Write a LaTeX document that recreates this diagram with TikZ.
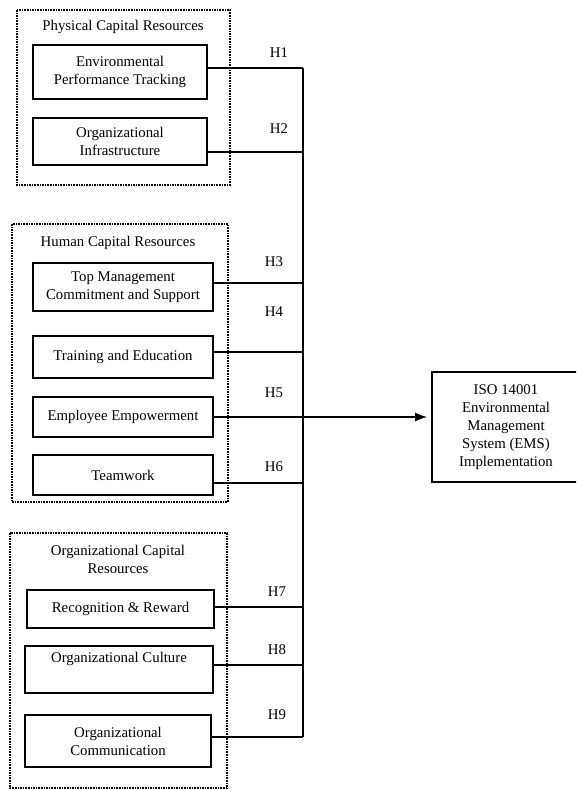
\documentclass[tikz,border=0pt]{standalone}
\usepackage{fontspec}
\setmainfont{Liberation Serif}
\usetikzlibrary{arrows.meta}

\begin{document}
\begin{tikzpicture}[x=1pt,y=-1pt,
	res/.style={draw=black,line width=1.1pt,inner sep=0pt,outer sep=0pt,align=center},
	grp/.style={draw=black,line width=1.6pt,densely dotted},
	hyp/.style={inner sep=0pt},
	link/.style={draw=black,line width=1.1pt}]
	\useasboundingbox (0,0) rectangle (576,789);
	\clip (0,0) rectangle (576,789);
	\fontsize{14.8}{18}\selectfont
	% resource groups
	\draw [grp] (17,10) rectangle (230,185);
	\draw [grp] (12,224) rectangle (228,502);
	\draw [grp] (10,533) rectangle (227,788);
	\node (phys) at (123,27) {Physical Capital Resources};
	\node (human) at (118,243) {Human Capital Resources};
	\node (orgcap) [align=center] at (118,559) {Organizational Capital\\Resources};
	% resources
	\node [res,minimum width=174pt,minimum height=54pt] (env) at (120,72) {Environmental\\Performance Tracking};
	\node [res,minimum width=174pt,minimum height=47pt] (infra) at (120,141.5) {Organizational\\Infrastructure};
	\node [res,minimum width=180pt,minimum height=48pt] (topmgmt) at (123,287) {Top Management\\Commitment and Support};
	\node [res,minimum width=180pt,minimum height=42pt] (train) at (123,357) {Training and Education};
	\node [res,minimum width=180pt,minimum height=40pt] (empow) at (123,417) {Employee Empowerment};
	\node [res,minimum width=180pt,minimum height=40pt] (team) at (123,475) {Teamwork};
	\node [res,minimum width=187pt,minimum height=38pt] (recog) at (120.5,609) {Recognition \& Reward};
	\node [res,minimum width=188pt,minimum height=47pt] (cult) at (119,669.5) {Organizational Culture\\\strut};
	\node [res,minimum width=186pt,minimum height=52pt] (comm) at (118,741) {Organizational\\Communication};
	% outcome
	\node [res,minimum width=148pt,minimum height=110pt] (ems) at (506,427) {ISO 14001\\Environmental\\Management\\System (EMS)\\Implementation};
	% bus
	\coordinate (b1) at (303,68);
	\coordinate (b2) at (303,152);
	\coordinate (b3) at (303,283);
	\coordinate (b4) at (303,352);
	\coordinate (b5) at (303,417);
	\coordinate (b6) at (303,483);
	\coordinate (b7) at (303,607);
	\coordinate (b8) at (303,665);
	\coordinate (b9) at (303,737);
	\draw [link,line width=1.5pt] (b1) -- (b9);
	\draw [link] (env.east |- b1) -- (b1);
	\draw [link] (infra.east |- b2) -- (b2);
	\draw [link] (topmgmt.east |- b3) -- (b3);
	\draw [link] (train.east |- b4) -- (b4);
	\draw [link] (empow.east |- b5) -- (b5);
	\draw [link] (team.east |- b6) -- (b6);
	\draw [link] (recog.east |- b7) -- (b7);
	\draw [link] (cult.east |- b8) -- (b8);
	\draw [link] (comm.east |- b9) -- (b9);
	\draw [link,-{Latex[length=12pt,width=9pt]},shorten >=5pt] (b5) -- (ems.west |- b5);
	% hypotheses
	\node [hyp] (h1) at (279,53) {H1};
	\node [hyp] (h2) at (279,129) {H2};
	\node [hyp] (h3) at (274,262) {H3};
	\node [hyp] (h4) at (274,312) {H4};
	\node [hyp] (h5) at (274,393) {H5};
	\node [hyp] (h6) at (274,467) {H6};
	\node [hyp] (h7) at (277,592) {H7};
	\node [hyp] (h8) at (277,650) {H8};
	\node [hyp] (h9) at (277,715) {H9};
\end{tikzpicture}
\end{document}
